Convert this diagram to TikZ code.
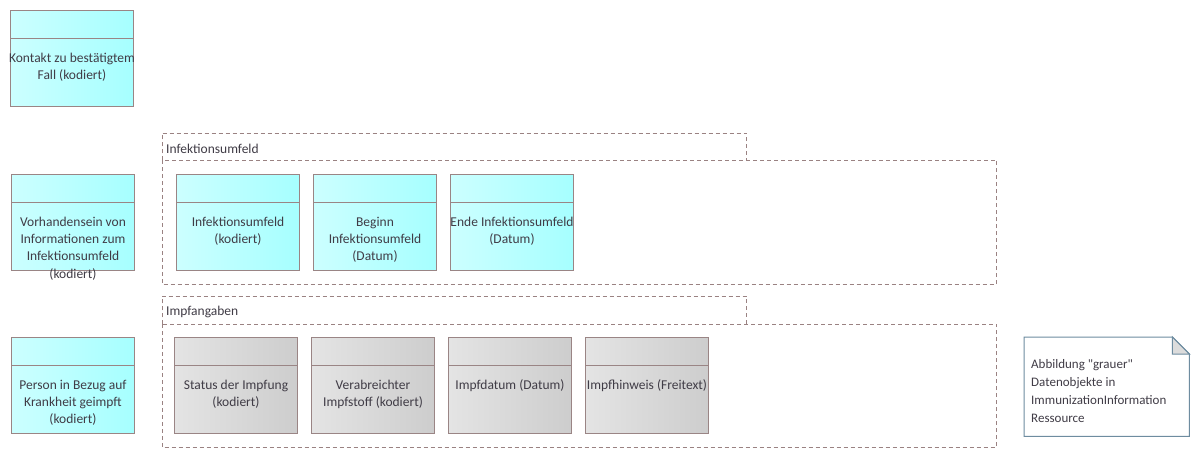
\documentclass[tikz,border=0pt]{standalone}
\usepackage{fontspec}
\setmainfont{Carlito}[Ligatures=TeXOff]
\definecolor{txtcol}{HTML}{403C46}
\definecolor{bordercol}{HTML}{9A8585}
\definecolor{dashcol}{HTML}{9A8282}
\definecolor{cyanL}{HTML}{CCFFFF}
\definecolor{cyanR}{HTML}{A6FFFF}
\definecolor{greyL}{HTML}{E4E4E4}
\definecolor{greyR}{HTML}{CDCDCD}
\definecolor{notecol}{HTML}{6E8CA0}
\definecolor{foldcol}{HTML}{DCDCDC}
\tikzset{
  entitybox/.style={draw=bordercol, line width=1pt, minimum width=123pt, minimum height=96pt, inner sep=0pt},
  cyanfill/.style={left color=cyanL, right color=cyanR},
  greyfill/.style={left color=greyL, right color=greyR},
  entitytext/.style={text=txtcol, align=center, inner sep=0pt, font=\fontsize{13.5}{17.3}\selectfont},
  groupframe/.style={draw=dashcol, dash pattern=on 4pt off 3pt, line width=0.9pt},
  grouplabel/.style={text=txtcol, inner sep=0pt, anchor=base west, font=\fontsize{13.5}{17.3}\selectfont},
  notetext/.style={text=txtcol, align=left, inner sep=0pt, anchor=north west, font=\fontsize{13}{18}\selectfont},
}
% first-line baseline sits 52pt below the box top; strut height = 0.7*17.3 = 12.11pt
\newcommand\myentity[5]{%
  \node[entitybox,#4,anchor=north west] (#1) at (#2,#3) {};
  \draw[bordercol, line width=1pt] ([yshift=-28pt]#1.north west) -- ([yshift=-28pt]#1.north east);
  \node[entitytext,anchor=north] (#1-t) at ([yshift=-39.9pt]#1.north) {\strut#5};
}
\begin{document}
\begin{tikzpicture}[x=1pt,y=-1pt]
\fill[white] (0,0) rectangle (1198,463);
\useasboundingbox (0,0) rectangle (1198,463);

% groups
\node[inner sep=0pt, minimum width=584pt, minimum height=27pt, anchor=north west] (g1tab) at (162,133) {};
\node[inner sep=0pt, minimum width=834pt, minimum height=124pt, anchor=north west] (g1) at (162,160) {};
\draw[groupframe] (g1tab.south west) -- (g1tab.north west) -- (g1tab.north east) -- (g1tab.south east);
\draw[groupframe] (g1.north west) rectangle (g1.south east);
\node[grouplabel] (g1l) at (166,153) {Infektionsumfeld};

\node[inner sep=0pt, minimum width=584pt, minimum height=28pt, anchor=north west] (g2tab) at (162,296) {};
\node[inner sep=0pt, minimum width=834pt, minimum height=123pt, anchor=north west] (g2) at (162,324) {};
\draw[groupframe] (g2tab.south west) -- (g2tab.north west) -- (g2tab.north east) -- (g2tab.south east);
\draw[groupframe] (g2.north west) rectangle (g2.south east);
\node[grouplabel] (g2l) at (166,315) {Impfangaben};

% left column
\myentity{kontakt}{10}{10}{cyanfill}{Kontakt zu bestätigtem\\Fall (kodiert)}
\myentity{vorh}{11}{174}{cyanfill}{Vorhandensein von\\Informationen zum\\Infektionsumfeld\\(kodiert)}
\myentity{person}{11}{337}{cyanfill}{Person in Bezug auf\\Krankheit geimpft\\(kodiert)}

% Infektionsumfeld
\myentity{infk}{176}{174}{cyanfill}{Infektionsumfeld\\(kodiert)}
\myentity{beginn}{313}{174}{cyanfill}{Beginn\\Infektionsumfeld\\(Datum)}
\myentity{ende}{450}{174}{cyanfill}{Ende Infektionsumfeld\\(Datum)}

% Impfangaben
\myentity{status}{174}{337}{greyfill}{Status der Impfung\\(kodiert)}
\myentity{stoff}{311}{337}{greyfill}{Verabreichter\\Impfstoff (kodiert)}
\myentity{datum}{448}{337}{greyfill}{Impfdatum (Datum)}
\myentity{hinweis}{585}{337}{greyfill}{Impfhinweis (Freitext)}

% note
\node[inner sep=0pt, minimum width=165pt, minimum height=99pt, anchor=north west] (note) at (1024,337) {};
\draw[notecol, line width=1pt, fill=white]
  (note.north west) -- ([xshift=-17pt]note.north east) -- ([yshift=-17pt]note.north east)
  -- (note.south east) -- (note.south west) -- cycle;
\draw[notecol, line width=1pt, fill=foldcol]
  ([xshift=-17pt]note.north east) -- ([xshift=-17pt,yshift=-17pt]note.north east) -- ([yshift=-17pt]note.north east) -- cycle;
\node[notetext] (note-t) at (1031,355.4) {\strut Abbildung "grauer"\\Datenobjekte in\\ImmunizationInformation\\Ressource};
\end{tikzpicture}
\end{document}
